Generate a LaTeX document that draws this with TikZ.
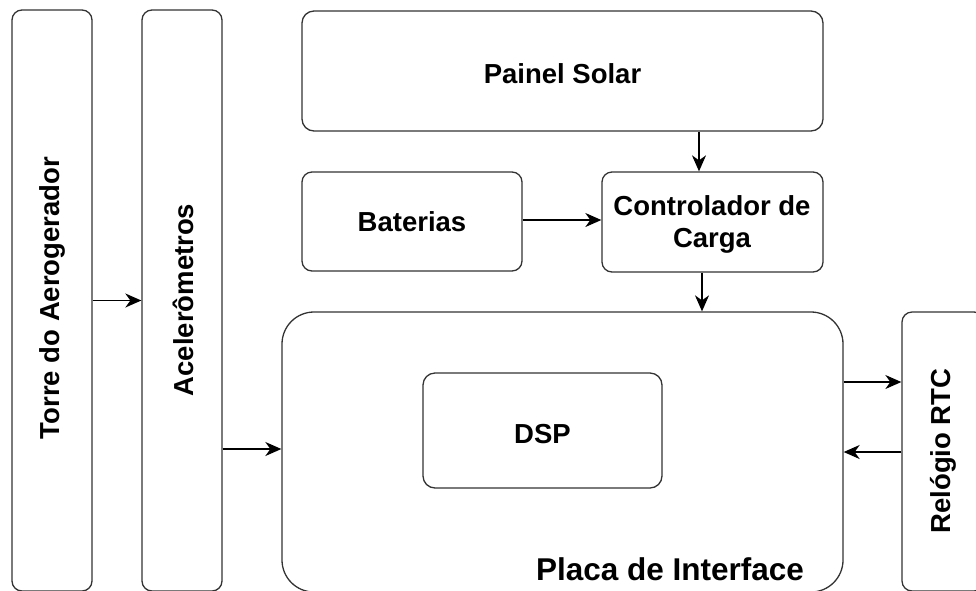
\documentclass[tikz,border=0pt]{standalone}
\usepackage{fontspec}
\setmainfont{Liberation Sans}
\usetikzlibrary{arrows.meta}
\begin{document}
\begin{tikzpicture}[x=1pt,y=-1pt,
  blk/.style={draw=black!80, line width=1.3pt, rounded corners=10pt, fill=white, inner sep=0pt},
  lbl/.style={font=\bfseries\fontsize{27.5}{32}\selectfont, align=center, inner sep=0pt},
  arr/.style={draw=black, line width=1.5pt, -{Stealth[length=16pt,width=14pt,inset=5pt]}}]
\useasboundingbox (0,0) rectangle (976,590);
\clip (0,0) rectangle (976,590);

% blocks
\node[blk, minimum width=80pt, minimum height=581pt] (torre) at (52,300.5) {};
\node[blk, minimum width=80pt, minimum height=581pt] (acel) at (182,300.5) {};
\node[blk, minimum width=521pt, minimum height=120pt, rounded corners=12pt] (painel) at (562.5,71) {};
\node[blk, minimum width=220pt, minimum height=99pt] (bat) at (412,221.5) {};
\node[blk, minimum width=221pt, minimum height=100pt] (ctrl) at (712.5,222) {};
\node[blk, minimum width=561pt, minimum height=280pt, rounded corners=32pt] (placa) at (562.5,452) {};
\node[blk, minimum width=239pt, minimum height=115pt, rounded corners=12pt] (dsp) at (542.5,430.5) {};
\node[blk, minimum width=82pt, minimum height=279pt] (rtc) at (943,451.5) {};

% labels
\node[lbl, rotate=90] (torreT) at (52,298) {Torre do Aerogerador};
\node[lbl, rotate=90] (acelT) at (183,300) {Acelerômetros};
\node[lbl] (painelT) at (562.5,74) {Painel Solar};
\node[lbl] (batT) at (412,222) {Baterias};
\node[lbl] (ctrlT) at (712,224) {Controlador de\\Carga};
\node[lbl] (dspT) at (542.5,434) {DSP};
\node[lbl, rotate=90] (rtcT) at (943,451) {Relógio RTC};
\node[lbl, font=\bfseries\fontsize{31.5}{36}\selectfont] (placaT) at (670,569) {Placa de Interface};

% connector positions
\coordinate (xp) at (699,0);
\coordinate (xc) at (702,0);
\coordinate (ya) at (0,449);
\coordinate (yo) at (0,382);
\coordinate (yi) at (0,452);
\coordinate (yb) at (0,220);

% connectors
\draw[arr] (torre.east) -- (acel.west);
\draw[arr] (acel.east |- ya) -- (placa.west |- ya);
\draw[arr] (painel.south -| xp) -- (ctrl.north -| xp);
\draw[arr] (bat.east |- yb) -- (ctrl.west |- yb);
\draw[arr] (ctrl.south -| xc) -- (placa.north -| xc);
\draw[arr] (placa.east |- yo) -- (rtc.west |- yo);
\draw[arr] (rtc.west |- yi) -- (placa.east |- yi);
\end{tikzpicture}
\end{document}
